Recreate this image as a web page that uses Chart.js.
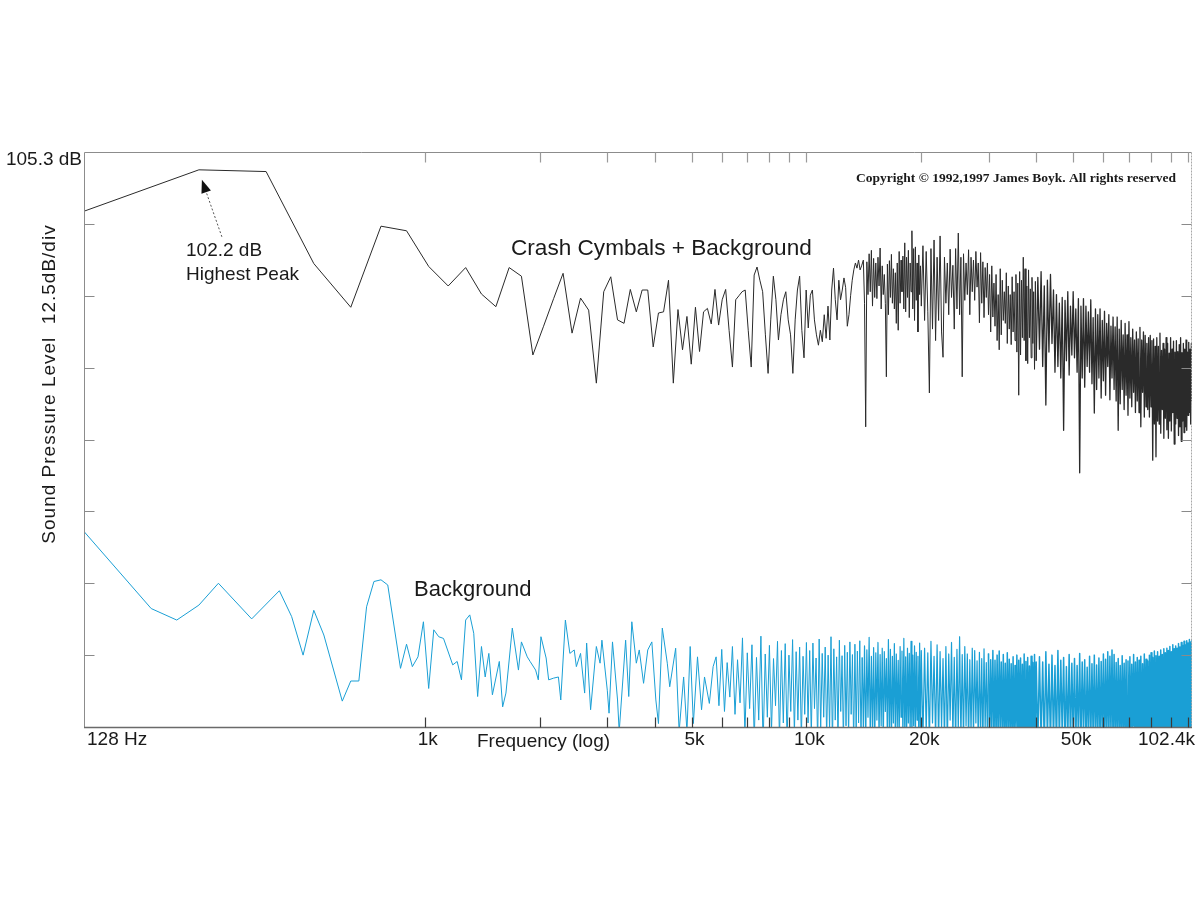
<!DOCTYPE html>
<html><head><meta charset="utf-8">
<script src="https://cdn.jsdelivr.net/npm/chart.js@4.4.1/dist/chart.umd.min.js"></script>
<style>html,body{margin:0;padding:0;background:#fff;}canvas{display:block;}</style>
</head><body>
<canvas id="c" width="1200" height="900" style="width:1200px;height:900px"></canvas>
<script>
// ---------- axis ticks ----------
const xTickHz = [128, 1000, 5000, 10000, 20000, 50000, 102400];
const xTickLabels = ['128 Hz', '1k', '5k', '10k', '20k', '50k', '102.4k'];
const xMarkHz = [1000,2000,3000,4000,5000,6000,7000,8000,9000,10000,20000,30000,40000,50000,60000,70000,80000,90000,100000];
const yTickDb = [5.3, 17.8, 30.3, 42.8, 55.3, 67.8, 80.3, 92.8, 105.3];
const yTickLabels = ['', '', '', '', '', '', '', '', '105.3 dB'];
const yMarkDb = [17.8, 30.3, 42.8, 55.3, 67.8, 80.3, 92.8];

// ---------- Crash Cymbals + Background (128 Hz bins, low part) ----------
const crashLowHz = [
 128,256,384,512,640,768,896,1024,1152,1280,
 1408,1536,1664,1792,1920,2048,2176,2304,2432,2560,
 2688,2816,2944,3072,3200,3328,3456,3584,3712,3840,
 3968,4096,4224,4352,4480,4608,4736,4864,4992,5120,
 5248,5376,5504,5632,5760,5888,6016,6144,6272,6400,
 6528,6656,6784,6912,7040,7168,7296,7424,7552,7680,
 7808,7936,8064,8192,8320,8448,8576,8704,8832,8960,
 9088,9216,9344,9472,9600,9728,9856,9984,10112,10240,
 10368,10496,10624,10752,10880,11008,11136,11264,11392,11520,
 11648,11776,11904,12032,12160,12288,12416,12544,12672,12800,
 12928,13056,13184,13312,13440,13568,13696,13824,13952];
const crashLowDb = [
 95.0,102.2,101.9,85.9,78.3,92.4,91.6,85.4,82.0,85.2,
 80.6,78.4,85.2,83.7,70.0,75.0,79.8,84.2,73.8,79.9,
 77.8,65.1,81.0,83.6,76.1,75.5,81.4,77.5,81.3,81.3,
 71.4,77.3,77.5,83.0,65.1,77.9,70.9,76.7,68.4,78.3,
 70.6,77.5,78.1,75.4,81.4,75.2,79.6,81.4,74.3,67.9,
 79.6,80.3,81.0,81.3,74.3,67.9,83.9,85.3,83.0,81.0,
 73.5,66.8,76.1,83.7,79.6,72.6,77.0,79.6,81.0,76.1,
 73.5,66.8,76.1,81.3,83.7,74.3,69.5,81.3,74.7,80.4,
 81.3,76.1,73.5,71.7,74.3,72.3,77.0,72.9,78.5,72.6,
 81.3,85.1,79.6,76.1,83.0,79.6,81.3,83.4,81.7,75.0,
 77.0,80.3,83.0,84.8,86.0,85.1,86.5,84.8,85.5];

// ---------- Background (32 Hz bins, low part) ----------
const bgLowHz = [
 128,192,224,256,288,352,416,448,480,512,
 544,608,640,672,704,736,768,800,864,896,
 928,960,992,1024,1056,1088,1120,1184,1216,1248,
 1280,1312,1344,1376,1408,1440,1472,1504,1568,1600,
 1632,1696,1760,1792,1856,1888,1952,1984,2016,2080,
 2112,2176,2240,2272,2336,2400,2464,2496,2560,2624,
 2656,2720,2816,2880,2912,3008,3040,3104,3200,3232,
 3360,3424,3488,3584,3648,3744,3840,3936,4032,4096,
 4192,4320,4384,4544,4640,4768,4864,4960,5056,5184,
 5312,5408,5568,5696];
const bgLowDb = [
 39.3,25.9,23.9,26.5,30.3,24.1,29.0,24.5,17.8,25.6,
 21.3,9.8,13.3,13.3,26.2,30.6,30.9,30.0,15.5,19.7,
 15.8,17.5,23.6,12.0,22.2,21.0,20.7,16.1,16.7,13.5,
 23.9,24.8,21.6,10.6,19.3,14.0,18.1,10.9,16.7,8.8,
 11.2,22.5,15.2,20.1,17.5,16.7,15.2,13.5,21.0,17.3,
 13.5,13.8,14.0,10.0,23.9,18.1,18.7,15.8,18.1,11.2,
 19.9,8.3,19.3,16.4,20.4,11.7,7.7,20.1,10.0,4.5,
 20.4,10.6,23.6,16.4,18.7,12.9,18.7,20.1,10.0,5.9,
 22.5,16.4,12.3,19.0,4.5,14.0,4.5,19.3,5.9,17.5,
 8.3,14.0,9.4,15.8];

// ---------- dense high-frequency region: sample frequencies (Hz) ----------
const denseHz = [
 5800,5900,6000,6100,6200,6300,6400,6500,6600,6700,
 6800,6900,7000,7100,7200,7300,7400,7500,7600,7700,
 7800,7900,8000,8100,8200,8300,8400,8500,8600,8700,
 8800,8900,9000,9100,9200,9300,9400,9500,9600,9700,
 9800,9900,10000,
 10100,10200,10300,10400,10500,10600,10700,10800,10900,11000,
 11100,11200,11300,11400,11500,11600,11700,11800,11900,12000,
 12100,12200,12300,12400,12500,12600,12700,12800,12900,13000,
 13100,13200,13300,13400,13500,13600,13700,13800,13900,14000,
 14100,14200,14300,14400,14500,14600,14700,14800,14900,15000,
 15100,15200,15300,15400,15500,15600,15700,15800,15900,16000,
 16100,16200,16300,16400,16500,16600,16700,16800,16900,17000,
 17100,17200,17300,17400,17500,17600,17700,17800,17900,18000,
 18100,18200,18300,18400,18500,18600,18700,18800,18900,19000,
 19100,19200,19300,19400,19500,19600,19700,19800,19900,20000,
 20200,20400,20600,20800,21000,21200,21400,21600,21800,22000,
 22200,22400,22600,22800,23000,23200,23400,23600,23800,24000,
 24200,24400,24600,24800,25000,25200,25400,25600,25800,26000,
 26200,26400,26600,26800,27000,27200,27400,27600,27800,28000,
 28200,28400,28600,28800,29000,29200,29400,29600,29800,30000,
 30200,30400,30600,30800,31000,31200,31400,31600,31800,32000,
 32200,32400,32600,32800,33000,33200,33400,33600,33800,34000,
 34200,34400,34600,34800,35000,35200,35400,35600,35800,36000,
 36200,36400,36600,36800,37000,37200,37400,37600,37800,38000,
 38200,38400,38600,38800,39000,39200,39400,39600,39800,40000,
 40400,40800,41200,41600,42000,42400,42800,43200,43600,44000,44400,44800,
 45200,45600,46000,46400,46800,47200,47600,48000,48400,48800,49200,49600,
 50000,50400,50800,51200,51600,52000,52400,52800,53200,53600,54000,54400,
 54800,55200,55600,56000,56400,56800,57200,57600,58000,58400,58800,59200,
 59600,60000,60400,60800,61200,61600,62000,62400,62800,63200,63600,64000,
 64400,64800,65200,65600,66000,66400,66800,67200,67600,68000,68400,68800,
 69200,69600,70000,70400,70800,71200,71600,72000,72400,72800,73200,73600,
 74000,74400,74800,75200,75600,76000,76400,76800,77200,77600,78000,78400,
 78800,79200,79600,80000,80400,80800,81200,81600,82000,82400,82800,83200,
 83600,84000,84400,84800,85200,85600,86000,86400,86800,87200,87600,88000,
 88400,88800,89200,89600,90000,90400,90800,91200,91600,92000,92400,92800,
 93200,93600,94000,94400,94800,95200,95600,96000,96400,96800,97200,97600,
 98000,98400,98800,99200,99600,100000,100400,100800,101200,101600,102000,102400];

// Background, dense region (one value per denseHz entry)
const bgDenseDb = [
 17.5,9.0,18.8,8.0,16.5,10.5,19.3,7.5,17.0,9.5,
 20.8,4.0,18.2,8.5,19.6,3.0,17.4,6.5,21.1,2.0,
 18.0,7.0,19.5,4.5,17.2,9.0,20.2,3.0,18.6,6.0,
 19.8,2.5,17.8,8.0,20.5,4.0,18.4,6.5,19.2,3.0,
 17.6,7.5,20.0,
 6.0,18.6,3.5,19.9,8.5,17.3,2.5,20.6,5.0,18.1,
 7.0,19.2,3.0,17.8,4.5,21.0,2.0,18.9,6.5,17.5,
 3.0,20.4,8.0,17.7,2.5,19.5,5.5,18.3,3.5,20.1,
 7.5,17.9,2.0,19.7,4.5,18.5,6.0,20.3,3.0,17.4,
 5.0,19.4,2.5,18.7,7.0,20.9,3.5,17.6,4.0,19.1,
 2.0,18.2,6.5,20.0,3.0,17.9,5.5,19.0,2.5,18.4,
 8.0,17.2,3.0,20.5,4.5,18.8,2.0,17.6,6.0,19.8,
 3.5,18.0,5.0,16.9,2.5,19.3,7.0,18.5,3.0,20.7,
 4.5,17.5,2.0,19.0,6.0,18.1,3.5,20.2,2.5,17.8,
 5.5,19.4,3.0,18.3,6.5,17.6,2.0,19.9,4.0,18.6,
 3.0,19.0,4.5,18.2,2.0,20.2,6.0,17.6,3.0,19.6,
 2.5,18.4,5.0,17.2,3.0,19.3,2.0,18.0,6.5,20.0,
 3.5,17.4,2.0,18.8,4.5,21.0,3.0,17.9,2.5,19.3,
 5.5,18.0,2.0,17.0,4.0,19.0,3.0,18.6,6.0,16.8,
 2.5,18.3,3.5,17.2,2.0,18.9,5.0,16.5,3.0,18.1,
 2.0,17.0,4.5,18.6,2.5,16.9,3.5,17.8,2.0,18.5,
 5.0,16.6,2.5,17.9,3.0,16.4,2.0,18.2,4.0,17.1,
 2.5,16.3,3.5,17.5,2.0,16.0,5.0,17.8,2.5,16.9,
 3.0,17.3,2.0,16.2,4.0,18.0,2.5,16.7,3.0,17.4,
 2.0,15.9,3.5,17.6,2.5,16.5,3.0,17.9,2.0,16.6,
 2.5,17.5,3.0,16.6,2.0,18.4,3.5,16.2,2.5,17.8,3.0,16.0,
 2.0,18.6,3.0,16.9,4.0,17.4,2.0,15.8,3.0,17.9,2.5,16.4,
 3.5,17.2,2.0,16.0,3.0,18.1,2.5,16.6,4.0,17.0,2.0,15.7,
 3.0,17.6,2.5,16.3,3.5,17.8,2.0,16.1,3.0,17.3,2.5,16.7,
 3.5,18.0,2.0,17.1,3.0,18.4,2.5,17.6,4.0,18.7,2.0,17.9,
 3.0,16.5,2.5,17.2,3.5,16.0,2.0,17.7,3.0,16.4,2.5,17.0,
 2.0,16.8,3.0,17.5,2.5,16.2,3.5,17.9,2.0,16.6,3.0,17.4,
 2.5,16.9,3.0,17.6,2.0,16.3,3.5,18.0,2.5,17.1,3.0,16.8,
 2.0,17.8,3.0,18.2,2.5,17.4,3.5,18.5,2.0,17.7,3.0,18.4,
 2.5,17.6,3.0,18.7,2.0,17.9,3.5,18.9,2.5,18.2,3.0,19.0,
 2.0,18.6,3.0,19.3,2.5,18.4,3.5,19.6,2.0,18.9,3.0,19.4,
 2.5,19.0,3.0,19.8,2.0,19.2,3.5,20.0,2.5,19.5,3.0,20.2,
 2.0,19.6,3.0,20.3,2.5,19.9,3.5,20.5,2.0,20.1,3.0,20.6];

// Crash Cymbals + Background, dense region (denseHz from 14.1 kHz upward)
const crashDenseDb = [
 86.5,79.0,57.5,86.2,80.5,87.6,81.0,88.2,78.5,86.8,
 80.0,86.0,79.8,87.0,82.0,88.6,78.0,85.5,80.5,84.0,
 79.0,66.2,85.8,77.0,86.4,80.0,87.5,79.0,85.0,78.0,
 84.3,75.5,86.0,74.3,88.0,79.0,86.5,81.0,87.2,78.0,
 89.5,77.5,87.0,80.0,88.2,76.5,86.0,81.0,91.6,78.0,
 88.5,76.0,88.8,79.5,86.0,74.0,87.4,80.5,85.5,78.5,
 89.0,76.0,88.0,77.5,63.4,88.5,74.5,90.0,72.5,87.0,
 76.0,90.7,74.0,69.6,87.0,79.0,86.0,77.0,88.4,80.0,
 85.6,74.5,88.5,78.0,91.2,77.0,87.0,66.2,87.6,79.5,
 86.0,80.5,88.3,77.0,87.0,81.0,86.5,79.5,88.0,81.8,
 86.0,75.6,87.8,79.0,86.2,76.5,85.2,80.0,86.0,77.0,
 84.0,74.0,85.5,76.6,82.5,75.0,84.0,72.5,80.5,70.9,
 85.0,73.5,83.0,76.0,81.0,75.5,84.3,72.0,82.0,74.5,
 80.5,71.8,83.6,74.0,81.0,72.5,84.0,70.5,82.5,63.0,
 84.5,70.0,83.0,73.0,87.0,72.5,85.0,69.0,82.0,68.5,
 84.8,73.0,81.5,69.5,83.5,72.0,81.0,67.5,82.8,69.0,
 83.5,71.0,84.5,68.0,82.0,61.3,83.0,70.5,84.0,72.0,81.3,67.0,
 80.5,68.0,79.0,66.0,80.0,56.9,79.5,69.0,81.0,66.5,78.5,70.0,
 81.0,69.5,78.0,67.0,79.8,49.5,78.5,66.0,79.8,64.4,78.5,68.0,
 77.5,67.0,79.6,65.0,76.5,59.9,78.0,64.0,77.0,66.0,78.0,62.5,
 76.0,65.5,77.6,63.0,75.5,68.0,77.0,62.2,75.0,66.0,76.6,64.0,
 74.9,62.0,76.6,56.9,74.5,61.5,76.0,64.0,73.5,60.5,75.5,63.0,
 73.5,59.5,75.8,62.5,73.0,61.0,74.5,63.5,72.6,60.0,74.0,62.0,
 72.8,60.0,74.8,57.5,72.6,63.5,74.0,59.2,73.4,61.0,72.0,60.5,
 73.0,59.2,73.4,61.0,72.5,51.7,72.8,58.0,71.5,52.3,73.0,58.5,
 71.5,58.0,73.8,56.4,70.8,60.5,72.0,55.5,71.0,59.0,73.0,57.0,
 72.0,55.5,70.3,58.5,73.0,56.8,71.0,60.0,72.4,54.5,70.5,58.0,
 72.5,59.0,70.6,56.0,71.8,57.5,73.0,55.0,70.4,58.5,72.0,56.5,
 71.0,57.5,72.6,56.9,70.5,59.5,72.2,60.0,71.0,58.0,72.0,62.0];

// ---------- annotation texts ----------
const peakLabel = ['102.2 dB', 'Highest Peak'];
const seriesLabels = ['Crash Cymbals + Background', 'Background'];
const yTitle = 'Sound Pressure Level  12.5dB/div';
const xTitle = 'Frequency (log)';
const copyright = 'Copyright \u00A9 1992,1997 James Boyk. All rights reserved';

// ---------- assemble ----------
const crashHz = crashLowHz.concat(denseHz.filter(f => f >= 14100));
const crashDb = crashLowDb.concat(crashDenseDb);
const bgHz = bgLowHz.concat(denseHz);
const bgDb = bgLowDb.concat(bgDenseDb);
const toPts = (xs, ys) => xs.slice(0, Math.min(xs.length, ys.length)).map((f, i) => ({x: f, y: ys[i]}));

const SANS = '"Liberation Sans", Arial, Helvetica, sans-serif';
Chart.defaults.font.family = SANS;

const framePlugin = {
  id: 'frame',
  afterDraw(chart) {
    const {ctx, chartArea: a, scales: {x, y}} = chart;
    const L = a.left + 0.5, R = a.right - 0.5, T = a.top + 0.5, B = a.bottom + 0.5;
    ctx.save();
    ctx.lineWidth = 1;
    ctx.strokeStyle = '#8c8c8c';
    ctx.beginPath(); ctx.moveTo(L, B); ctx.lineTo(L, T); ctx.lineTo(R, T); ctx.stroke();
    ctx.strokeStyle = '#a8a8a8'; ctx.setLineDash([2, 1]);
    ctx.beginPath(); ctx.moveTo(R, T); ctx.lineTo(R, B); ctx.stroke();
    ctx.setLineDash([]);
    ctx.strokeStyle = '#6a6a6a'; ctx.lineWidth = 1.5;
    ctx.beginPath(); ctx.moveTo(a.left, B); ctx.lineTo(a.right, B); ctx.stroke();
    ctx.lineWidth = 1.2;
    xMarkHz.forEach(f => {
      const px = Math.round(x.getPixelForValue(f)) + 0.5;
      ctx.strokeStyle = '#3a3a3a';
      ctx.beginPath(); ctx.moveTo(px, B); ctx.lineTo(px, B - 10); ctx.stroke();
      ctx.strokeStyle = '#9a9a9a';
      ctx.beginPath(); ctx.moveTo(px, T); ctx.lineTo(px, T + 10); ctx.stroke();
    });
    ctx.lineWidth = 1;
    yMarkDb.forEach(v => {
      const py = Math.round(y.getPixelForValue(v)) + 0.5;
      ctx.strokeStyle = '#8a8a8a';
      ctx.beginPath(); ctx.moveTo(L, py); ctx.lineTo(L + 10, py); ctx.stroke();
      ctx.beginPath(); ctx.moveTo(R, py); ctx.lineTo(R - 10, py); ctx.stroke();
    });

    // arrow to the highest peak
    const px = x.getPixelForValue(crashHz[1]), py = y.getPixelForValue(crashDb[1]);
    const tipX = px + 3, tipY = py + 10, tailX = px + 23, tailY = py + 67;
    const ang = Math.atan2(tipY - tailY, tipX - tailX);
    const hl = 13, hw = 5;
    const bx = tipX - hl * Math.cos(ang), by = tipY - hl * Math.sin(ang);
    ctx.strokeStyle = '#555'; ctx.lineWidth = 1; ctx.setLineDash([2, 2]);
    ctx.beginPath(); ctx.moveTo(tailX, tailY); ctx.lineTo(bx, by); ctx.stroke();
    ctx.setLineDash([]);
    ctx.fillStyle = '#111';
    ctx.beginPath();
    ctx.moveTo(tipX, tipY);
    ctx.lineTo(bx + hw * Math.sin(ang), by - hw * Math.cos(ang));
    ctx.lineTo(bx - hw * Math.sin(ang), by + hw * Math.cos(ang));
    ctx.closePath(); ctx.fill();

    // texts
    ctx.fillStyle = '#1a1a1a';
    ctx.textAlign = 'left'; ctx.textBaseline = 'alphabetic';
    ctx.font = '19px ' + SANS;
    ctx.fillText(peakLabel[0], 186, 256);
    ctx.fillText(peakLabel[1], 186, 280);
    ctx.fillText(xTitle, 477, 747);
    ctx.font = '22.6px ' + SANS;
    ctx.fillText(seriesLabels[0], 511, 255);
    ctx.font = '22px ' + SANS;
    ctx.fillText(seriesLabels[1], 414, 596);
    ctx.font = 'bold 13.5px "Liberation Serif", "Times New Roman", serif';
    ctx.textAlign = 'right';
    ctx.fillText(copyright, 1176, 182);

    ctx.save();
    ctx.translate(55, 384);
    ctx.rotate(-Math.PI / 2);
    ctx.textAlign = 'center';
    ctx.font = '19px ' + SANS;
    try { ctx.letterSpacing = '1px'; } catch (e) {}
    ctx.fillText(yTitle, 0, 0);
    ctx.restore();
    ctx.restore();
  }
};

new Chart(document.getElementById('c'), {
  type: 'line',
  data: {
    datasets: [
      { label: seriesLabels[0], data: toPts(crashHz, crashDb), borderColor: '#2a2a2a', borderWidth: 1,
        pointRadius: 0, tension: 0, fill: false, borderJoinStyle: 'round',
        segment: { borderWidth: c => (c.p0.parsed.x >= 40000 ? 1.3 : 1) } },
      { label: seriesLabels[1], data: toPts(bgHz, bgDb), borderColor: '#1a9fd5', borderWidth: 1,
        pointRadius: 0, tension: 0, fill: false, borderJoinStyle: 'round',
        segment: { borderWidth: c => (c.p0.parsed.x >= 30000 ? 1.5 : (c.p0.parsed.x >= 14000 ? 1.2 : 1)) } }
    ]
  },
  options: {
    responsive: false, animation: false, devicePixelRatio: 1,
    layout: { padding: { left: 0, top: 152, right: 8, bottom: 133 } },
    plugins: { legend: { display: false }, tooltip: { enabled: false } },
    scales: {
      x: {
        type: 'logarithmic', min: 128, max: 102400,
        afterBuildTicks: s => { s.ticks = xTickHz.map(v => ({ value: v })); },
        afterFit: s => { s.height = 40; },
        ticks: { callback: (v, i) => xTickLabels[i], align: 'inner', autoSkip: false, maxRotation: 0,
                 font: { size: 19 }, color: '#1a1a1a', padding: 1, labelOffset: 3 },
        grid: { display: false, drawTicks: false }, border: { display: false }
      },
      y: {
        type: 'linear', min: 5.3, max: 105.3,
        afterBuildTicks: s => { s.ticks = yTickDb.map(v => ({ value: v })); },
        afterFit: s => { s.width = 84; },
        ticks: { callback: (v, i) => yTickLabels[i], font: { size: 19 }, color: '#1a1a1a', padding: 2, labelOffset: 8 },
        grid: { display: false, drawTicks: false }, border: { display: false }
      }
    }
  },
  plugins: [framePlugin]
});
</script>
</body></html>
